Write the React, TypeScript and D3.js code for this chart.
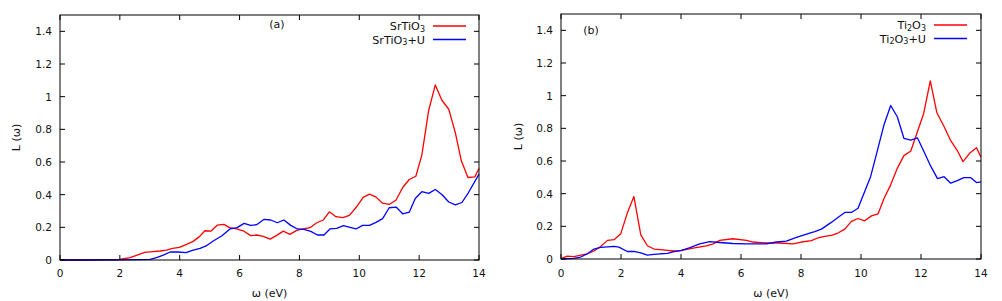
import React from "react";
import * as d3 from "d3";

// ---------- data ----------
const xTicks = [0, 2, 4, 6, 8, 10, 12, 14];
const yTicks = [0, 0.2, 0.4, 0.6, 0.8, 1, 1.2, 1.4];

// Panel (a) SrTiO3
const srOmega = [0, 0.5, 1.0, 1.5, 1.98, 2.34, 2.58, 2.83, 3.1, 3.34, 3.56, 3.76, 3.99, 4.23, 4.45, 4.66, 4.84, 5.05, 5.26, 5.48, 5.66, 5.9, 6.12, 6.37, 6.57, 6.79, 7.02, 7.24, 7.46, 7.68, 7.91, 8.13, 8.35, 8.58, 8.8, 9.0, 9.22, 9.45, 9.67, 9.91, 10.13, 10.34, 10.56, 10.78, 11.0, 11.23, 11.45, 11.67, 11.89, 12.09, 12.32, 12.54, 12.76, 12.99, 13.21, 13.41, 13.63, 13.86, 14.0];
const srValues = [0, 0, 0.001, 0.002, 0.003, 0.014, 0.03, 0.047, 0.051, 0.055, 0.061, 0.071, 0.077, 0.096, 0.114, 0.143, 0.179, 0.177, 0.214, 0.218, 0.198, 0.19, 0.179, 0.149, 0.153, 0.145, 0.128, 0.151, 0.177, 0.157, 0.181, 0.19, 0.198, 0.228, 0.245, 0.295, 0.265, 0.259, 0.273, 0.326, 0.383, 0.403, 0.385, 0.348, 0.34, 0.367, 0.444, 0.493, 0.513, 0.642, 0.917, 1.072, 0.978, 0.923, 0.778, 0.607, 0.505, 0.509, 0.56];

// Panel (a) SrTiO3+U
const srUOmega = [0, 1.0, 2.0, 2.6, 3.01, 3.23, 3.45, 3.68, 3.95, 4.21, 4.45, 4.68, 4.88, 5.12, 5.4, 5.68, 5.92, 6.15, 6.37, 6.57, 6.82, 7.04, 7.26, 7.48, 7.71, 7.93, 8.15, 8.38, 8.6, 8.82, 9.02, 9.25, 9.47, 9.69, 9.89, 10.11, 10.34, 10.56, 10.78, 11.0, 11.23, 11.45, 11.67, 11.87, 12.09, 12.32, 12.54, 12.76, 12.99, 13.21, 13.43, 13.65, 14.0];
const srUValues = [0, 0, 0.001, 0.002, 0.004, 0.014, 0.03, 0.049, 0.049, 0.045, 0.061, 0.071, 0.086, 0.116, 0.147, 0.19, 0.198, 0.224, 0.212, 0.216, 0.249, 0.245, 0.228, 0.245, 0.212, 0.19, 0.188, 0.175, 0.153, 0.153, 0.19, 0.194, 0.21, 0.2, 0.19, 0.212, 0.212, 0.23, 0.253, 0.32, 0.324, 0.283, 0.293, 0.377, 0.418, 0.408, 0.432, 0.401, 0.355, 0.338, 0.352, 0.413, 0.526];

// Panel (b) Ti2O3
const tiOmega = [0, 0.21, 0.43, 0.66, 0.88, 1.1, 1.32, 1.55, 1.77, 1.99, 2.21, 2.43, 2.66, 2.88, 3.1, 3.32, 3.55, 3.77, 3.99, 4.4, 4.85, 5.07, 5.29, 5.73, 6.18, 6.4, 6.85, 7.29, 7.73, 8.01, 8.35, 8.57, 8.79, 9.01, 9.23, 9.46, 9.68, 9.9, 10.12, 10.35, 10.57, 10.77, 10.99, 11.21, 11.43, 11.66, 11.88, 12.09, 12.31, 12.53, 12.76, 12.98, 13.2, 13.4, 13.62, 13.85, 14.0];
const tiValues = [0.002, 0.018, 0.014, 0.024, 0.032, 0.049, 0.077, 0.114, 0.118, 0.154, 0.281, 0.382, 0.148, 0.081, 0.061, 0.057, 0.053, 0.049, 0.051, 0.067, 0.081, 0.093, 0.114, 0.124, 0.114, 0.104, 0.098, 0.098, 0.093, 0.104, 0.112, 0.13, 0.138, 0.144, 0.159, 0.183, 0.23, 0.248, 0.234, 0.264, 0.277, 0.372, 0.454, 0.555, 0.633, 0.661, 0.779, 0.891, 1.09, 0.895, 0.814, 0.728, 0.667, 0.596, 0.647, 0.681, 0.623];

// Panel (b) Ti2O3+U
const tiUOmega = [0, 0.43, 0.66, 0.88, 1.1, 1.32, 1.77, 1.93, 2.21, 2.43, 2.66, 2.88, 3.1, 3.32, 3.55, 3.77, 3.99, 4.3, 4.62, 4.96, 5.29, 5.73, 6.18, 6.85, 7.18, 7.51, 7.85, 8.29, 8.46, 8.68, 9.01, 9.23, 9.46, 9.68, 9.9, 10.1, 10.32, 10.55, 10.77, 10.99, 11.21, 11.43, 11.66, 11.88, 12.1, 12.32, 12.55, 12.77, 12.99, 13.21, 13.43, 13.66, 13.85, 14.0];
const tiUValues = [0, 0.004, 0.012, 0.032, 0.061, 0.071, 0.077, 0.073, 0.046, 0.046, 0.037, 0.024, 0.028, 0.032, 0.034, 0.045, 0.051, 0.07, 0.093, 0.106, 0.101, 0.095, 0.093, 0.093, 0.104, 0.11, 0.132, 0.159, 0.168, 0.183, 0.224, 0.254, 0.285, 0.285, 0.311, 0.403, 0.504, 0.667, 0.824, 0.94, 0.871, 0.739, 0.728, 0.742, 0.657, 0.57, 0.492, 0.504, 0.464, 0.48, 0.498, 0.498, 0.468, 0.472];

const FONT = "DejaVu Sans, sans-serif";

type Part = { t: string; sub: boolean };
type Series = { x: number[]; y: number[]; color: string; parts: Part[] };
type Panel = {
  left: number; right: number; top: number; bottom: number;
  tag: string; tagX: number; tagY: number;
  legendTextX: number; legendY0: number; legendLine: [number, number];
  ylabelX: number;
  series: Series[];
};

const panels: Panel[] = [
  {
    left: 60, right: 479, top: 15, bottom: 260,
    tag: "(a)", tagX: 277, tagY: 28,
    legendTextX: 425, legendY0: 26, legendLine: [433, 466],
    ylabelX: 16,
    series: [
      { x: srOmega, y: srValues, color: "#ff0000", parts: [{ t: "SrTiO", sub: false }, { t: "3", sub: true }] },
      { x: srUOmega, y: srUValues, color: "#0000ff", parts: [{ t: "SrTiO", sub: false }, { t: "3", sub: true }, { t: "+U", sub: false }] },
    ],
  },
  {
    left: 561, right: 981, top: 14, bottom: 259,
    tag: "(b)", tagX: 591, tagY: 34,
    legendTextX: 926, legendY0: 25, legendLine: [934, 967],
    ylabelX: 518,
    series: [
      { x: tiOmega, y: tiValues, color: "#ff0000", parts: [{ t: "Ti", sub: false }, { t: "2", sub: true }, { t: "O", sub: false }, { t: "3", sub: true }] },
      { x: tiUOmega, y: tiUValues, color: "#0000ff", parts: [{ t: "Ti", sub: false }, { t: "2", sub: true }, { t: "O", sub: false }, { t: "3", sub: true }, { t: "+U", sub: false }] },
    ],
  },
];

// Each text piece laid out right-to-left as its own <text>, so subscripts sit lower.
function LegendLabel({ s, x, y }: { s: Series; x: number; y: number }) {
  const mainSize = 11.2;
  const subSize = 8;
  // approximate advance widths with canvas measurement fallback
  const widthOf = (t: string, size: number) => {
    if (typeof document !== "undefined") {
      const c = document.createElement("canvas").getContext("2d");
      if (c) {
        c.font = `${size}px DejaVu Sans`;
        return c.measureText(t).width;
      }
    }
    return t.length * size * 0.6;
  };
  let cursor = x;
  const placed: { t: string; x: number; sub: boolean }[] = [];
  for (let i = s.parts.length - 1; i >= 0; i--) {
    const p = s.parts[i];
    const w = widthOf(p.t, p.sub ? subSize : mainSize);
    cursor -= w;
    placed.push({ t: p.t, x: cursor, sub: p.sub });
  }
  return (
    <g>
      {placed.map((p, i) => (
        <text key={i} x={p.x} y={p.sub ? y + 5.5 : y + 4} fontFamily={FONT} fontSize={p.sub ? subSize : mainSize} fill="#111">{p.t}</text>
      ))}
    </g>
  );
}

function PanelView({ p }: { p: Panel }) {
  const x = d3.scaleLinear().domain([0, 14]).range([p.left, p.right]);
  const y = d3.scaleLinear().domain([0, 1.5]).range([p.bottom, p.top]);
  const line = d3.line<[number, number]>().x((d) => x(d[0])).y((d) => y(d[1]));
  const tl = 5;
  return (
    <g>
      {p.series.map((s, i) => (
        <path key={i} d={line(s.x.map((v, k) => [v, s.y[k]] as [number, number])) || ""} fill="none" stroke={s.color} strokeWidth={1.3} strokeLinejoin="round" />
      ))}
      <rect x={p.left} y={p.top} width={p.right - p.left} height={p.bottom - p.top} fill="none" stroke="#000" strokeWidth={1} />
      {xTicks.map((t) => (
        <g key={"x" + t}>
          <line x1={x(t)} x2={x(t)} y1={p.bottom} y2={p.bottom - tl} stroke="#000" />
          <line x1={x(t)} x2={x(t)} y1={p.top} y2={p.top + tl} stroke="#000" />
          <text x={x(t)} y={273} textAnchor="middle" dominantBaseline="central" fontFamily={FONT} fontSize={10.5} fill="#111">{t}</text>
        </g>
      ))}
      {yTicks.map((t) => (
        <g key={"y" + t}>
          <line x1={p.left} x2={p.left + tl} y1={y(t)} y2={y(t)} stroke="#000" />
          <line x1={p.right} x2={p.right - tl} y1={y(t)} y2={y(t)} stroke="#000" />
          <text x={p.left - 8} y={y(t)} textAnchor="end" dominantBaseline="central" fontFamily={FONT} fontSize={10.5} fill="#111">{t}</text>
        </g>
      ))}
      <text x={p.tagX} y={p.tagY} textAnchor="middle" fontFamily={FONT} fontSize={11} fill="#111">{p.tag}</text>
      <text transform={`translate(${p.ylabelX},${(p.top + p.bottom) / 2}) rotate(-90)`} textAnchor="middle" dominantBaseline="central" fontFamily={FONT} fontSize={11} fill="#111">L (ω)</text>
      <text x={(p.left + p.right) / 2} y={293} textAnchor="middle" dominantBaseline="central" fontFamily={FONT} fontSize={11} fill="#111">ω (eV)</text>
      {p.series.map((s, i) => {
        const ly = p.legendY0 + i * 13.5;
        return (
          <g key={"l" + i}>
            <LegendLabel s={s} x={p.legendTextX} y={ly} />
            <line x1={p.legendLine[0]} x2={p.legendLine[1]} y1={ly} y2={ly} stroke={s.color} strokeWidth={1.3} />
          </g>
        );
      })}
    </g>
  );
}

export default function App() {
  return (
    <svg width={1002} height={301} style={{ position: "absolute", left: 0, top: 0, background: "#fff" }}>
      <rect width={1002} height={301} fill="#fff" />
      {panels.map((p, i) => (
        <PanelView key={i} p={p} />
      ))}
    </svg>
  );
}
